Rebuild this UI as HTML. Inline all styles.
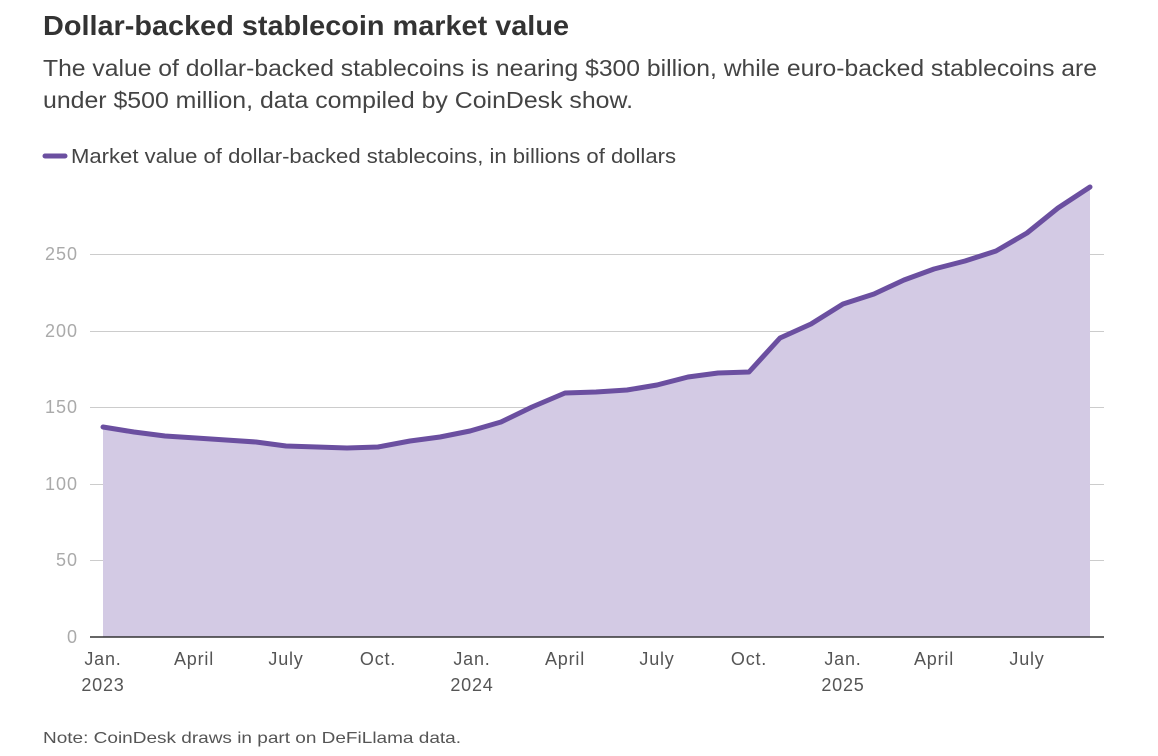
<!DOCTYPE html>
<html><head><meta charset="utf-8"><style>
body{margin:0;background:#fff;width:1158px;height:756px;overflow:hidden;font-family:"Liberation Sans",sans-serif;}
</style></head><body>
<svg width="1158" height="756" style="position:absolute;left:0;top:0" font-family="Liberation Sans">
<text x="43" y="35" font-size="28" font-weight="bold" fill="#333" textLength="526" lengthAdjust="spacingAndGlyphs">Dollar-backed stablecoin market value</text>
<text x="43" y="76" font-size="23" fill="#444" textLength="1054" lengthAdjust="spacingAndGlyphs">The value of dollar-backed stablecoins is nearing $300 billion, while euro-backed stablecoins are</text>
<text x="43" y="108" font-size="23" fill="#444" textLength="590" lengthAdjust="spacingAndGlyphs">under $500 million, data compiled by CoinDesk show.</text>
<line x1="45" y1="156" x2="65" y2="156" stroke="#6b4fa0" stroke-width="5" stroke-linecap="round"/>
<text x="71" y="163" font-size="20" fill="#444" textLength="605" lengthAdjust="spacingAndGlyphs">Market value of dollar-backed stablecoins, in billions of dollars</text>
<g stroke="#ccc" stroke-width="1">
<line x1="90" y1="254.5" x2="1104" y2="254.5"/><line x1="90" y1="331.5" x2="1104" y2="331.5"/>
<line x1="90" y1="407.5" x2="1104" y2="407.5"/><line x1="90" y1="484.5" x2="1104" y2="484.5"/>
<line x1="90" y1="560.5" x2="1104" y2="560.5"/></g>
<g font-size="18" fill="#aaa" text-anchor="end" letter-spacing="1">
<text x="78" y="260">250</text><text x="78" y="337">200</text><text x="78" y="413">150</text>
<text x="78" y="490">100</text><text x="78" y="566">50</text><text x="78" y="643">0</text></g>
<polygon fill="#d3cae4" points="103,637 103,427 134,432 165,436 196,438 226,440 256,442 286,446 317,447 347,448 378,447 410,441 440,437 470,431 501,422 532,407 565,393 596,392 627,390 657,385 688,377 718,373 749,372 780,338 811,324 843,304 874,294 904,280 934,269 965,261 996,251 1027,233 1058,208 1090,187 1090,637"/>
<polyline fill="none" stroke="#6b4fa0" stroke-width="5" stroke-linejoin="round" stroke-linecap="round" points="103,427 134,432 165,436 196,438 226,440 256,442 286,446 317,447 347,448 378,447 410,441 440,437 470,431 501,422 532,407 565,393 596,392 627,390 657,385 688,377 718,373 749,372 780,338 811,324 843,304 874,294 904,280 934,269 965,261 996,251 1027,233 1058,208 1090,187"/>
<line x1="90" y1="637" x2="1104" y2="637" stroke="#333" stroke-width="1.5"/>
<g font-size="18" fill="#555" text-anchor="middle" letter-spacing="0.8">
<text x="103" y="665">Jan.</text><text x="103" y="691">2023</text>
<text x="194" y="665">April</text><text x="286" y="665">July</text><text x="378" y="665">Oct.</text>
<text x="472" y="665">Jan.</text><text x="472" y="691">2024</text>
<text x="565" y="665">April</text><text x="657" y="665">July</text><text x="749" y="665">Oct.</text>
<text x="843" y="665">Jan.</text><text x="843" y="691">2025</text>
<text x="934" y="665">April</text><text x="1027" y="665">July</text></g>
<text x="43" y="743" font-size="16" fill="#555" textLength="418" lengthAdjust="spacingAndGlyphs">Note: CoinDesk draws in part on DeFiLlama data.</text>
</svg>
</body></html>
